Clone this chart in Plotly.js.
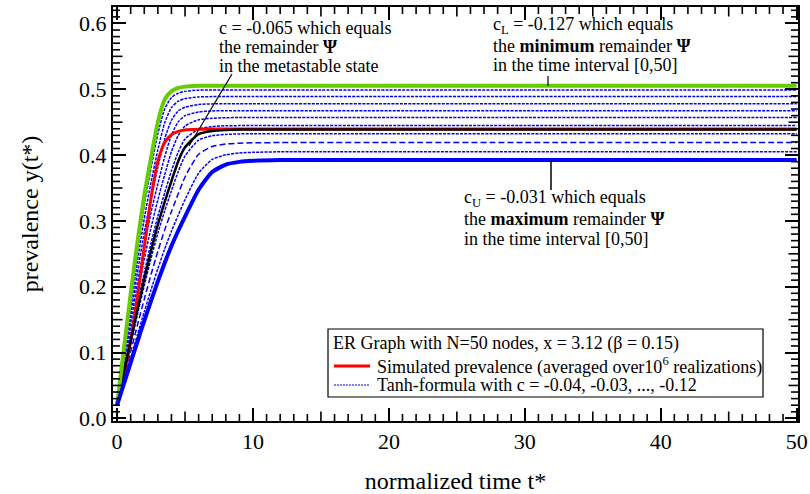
<!DOCTYPE html>
<html>
<head>
<meta charset="utf-8">
<script src="https://cdn.plot.ly/plotly-3.0.1.min.js"></script>
<style>html,body{margin:0;padding:0;background:#fff;}#chart{width:810px;height:494px;}</style>
</head>
<body>
<div id="chart"></div>
<script>
// normalized time samples t*
const t = [0,0.5,1,1.5,2,2.5,3,3.5,4,4.5,5,6,7,8,9,10,12,15,20,30,40,50];

// Tanh-formula curves (one array per c)
const y_c127 = [0.020,0.105,0.189,0.268,0.338,0.396,0.450,0.484,0.497,0.502,0.504,0.5053,0.5055,0.5055,0.5055,0.5055,0.5055,0.5055,0.5055,0.5055,0.5055,0.5055];
const y_c12  = [0.020,0.1005,0.180,0.2554,0.3234,0.3805,0.4322,0.4697,0.4876,0.494,0.4968,0.4987,0.499,0.499,0.499,0.499,0.499,0.499,0.499,0.499,0.499,0.499];
const y_c11  = [0.020,0.0946,0.1682,0.2387,0.3033,0.3588,0.4078,0.4487,0.4723,0.4819,0.4859,0.4883,0.4889,0.489,0.489,0.489,0.489,0.489,0.489,0.489,0.489,0.489];
const y_c10  = [0.020,0.0886,0.1563,0.2216,0.2824,0.3355,0.3816,0.4245,0.4529,0.4671,0.4727,0.4768,0.4778,0.478,0.478,0.478,0.478,0.478,0.478,0.478,0.478,0.478];
const y_c09  = [0.020,0.0827,0.1449,0.205,0.2617,0.3131,0.3564,0.3971,0.4304,0.4504,0.4599,0.4654,0.4671,0.4674,0.4675,0.4675,0.4675,0.4675,0.4675,0.4675,0.4675,0.4675];
const y_c08  = [0.020,0.0772,0.134,0.189,0.2419,0.2898,0.3321,0.3698,0.4053,0.4299,0.4442,0.4538,0.4559,0.4568,0.457,0.457,0.457,0.457,0.457,0.457,0.457,0.457];
const y_c07  = [0.020,0.0718,0.1231,0.1734,0.2217,0.2668,0.3072,0.3425,0.3761,0.4046,0.4245,0.4392,0.4433,0.4446,0.4448,0.445,0.445,0.445,0.445,0.445,0.445,0.445];
const y_c065 = [0.020,0.069,0.1176,0.1654,0.2113,0.2546,0.2944,0.3285,0.3606,0.3908,0.4118,0.4319,0.4366,0.4382,0.4388,0.439,0.439,0.439,0.439,0.439,0.439,0.439];
const y_c06  = [0.020,0.0664,0.1124,0.1578,0.2016,0.2431,0.2813,0.3151,0.3457,0.375,0.3986,0.4227,0.4295,0.4314,0.4322,0.4325,0.4325,0.4325,0.4325,0.4325,0.4325,0.4325];
const y_c05  = [0.020,0.061,0.1016,0.1418,0.1809,0.2186,0.2538,0.286,0.3143,0.3412,0.3667,0.4012,0.413,0.4168,0.4181,0.4187,0.419,0.419,0.419,0.419,0.419,0.419];
const y_c04  = [0.020,0.056,0.0916,0.1271,0.1618,0.1954,0.2274,0.2573,0.2844,0.3089,0.3324,0.3725,0.3935,0.4004,0.4032,0.4042,0.405,0.405,0.405,0.405,0.405,0.405];
const y_c031 = [0.020,0.0524,0.0846,0.1167,0.1481,0.1787,0.2082,0.236,0.262,0.2851,0.3066,0.3474,0.3743,0.3856,0.3897,0.3913,0.3924,0.3926,0.3926,0.3926,0.3926,0.3926];
// simulated prevalence
const y_sim  = [0.020,0.066,0.118,0.185,0.26,0.335,0.39,0.419,0.431,0.436,0.4382,0.4392,0.4395,0.4395,0.4395,0.4395,0.4395,0.4395,0.4395,0.4395,0.4395,0.4395];

// legend texts
const legendTitle = 'ER Graph with N=50 nodes, x = 3.12 (β = 0.15)';
const legendSim = 'Simulated prevalence (averaged over10<sup>6</sup> realizations)';
const legendTanh = 'Tanh-formula with c = -0.04, -0.03, ..., -0.12';

const SERIF = '"Liberation Serif", "Times New Roman", serif';
const BLUE = '#0000ff';
const DOT = '3px,1.2px';

function dotted(y, name, dash) {
  return {x: t, y: y, mode: 'lines', name: name, showlegend: false,
    line: {color: BLUE, width: 1.5, dash: dash || DOT, shape: 'spline', smoothing: 0.6},
    hoverinfo: 'skip'};
}

const traces = [
  dotted(y_c12, 'c=-0.12'),
  dotted(y_c11, 'c=-0.11'),
  dotted(y_c10, 'c=-0.10'),
  dotted(y_c09, 'c=-0.09'),
  dotted(y_c08, 'c=-0.08'),
  dotted(y_c07, 'c=-0.07'),
  dotted(y_c06, 'c=-0.06'),
  dotted(y_c05, 'c=-0.05', '6px,3px'),
  dotted(y_c04, 'c=-0.04'),
  {x: t, y: y_sim, mode: 'lines', name: 'simulated', showlegend: false,
   line: {color: '#ff0000', width: 3, shape: 'spline', smoothing: 0.6}},
  {x: t, y: y_c065, mode: 'lines', name: 'c=-0.065', showlegend: false,
   line: {color: '#000000', width: 2.5, shape: 'spline', smoothing: 0.6}},
  {x: t, y: y_c127, mode: 'lines', name: 'c=-0.127', showlegend: false,
   line: {color: '#66cc00', width: 4, shape: 'spline', smoothing: 0.6}},
  {x: t, y: y_c031, mode: 'lines', name: 'c=-0.031', showlegend: false,
   line: {color: BLUE, width: 4, shape: 'spline', smoothing: 0.6}}
];

// reference pixel -> paper coordinates (plot area 113..798 x 7..421)
const PW = 685, PH = 414;
const PX = p => (p - 113) / PW;
const PY = p => (421 - p) / PH;

const annFont = {family: SERIF, size: 18, color: '#000'};
function txt(px, py, s) {
  return {x: PX(px), y: PY(py), xref: 'paper', yref: 'paper', text: s, showarrow: false,
    xanchor: 'left', yanchor: 'middle', align: 'left', font: annFont};
}

const annotations = [
  txt(217, 28, 'c = -0.065 which equals'),
  txt(217, 47, 'the remainder <b>Ψ</b>'),
  txt(217, 66, 'in the metastable state'),
  txt(491, 26, 'c<sub>L</sub> = -0.127 which equals'),
  txt(491, 46, 'the <b>minimum</b> remainder <b>Ψ</b>'),
  txt(491, 65, 'in the time interval [0,50]'),
  txt(462, 198, 'c<sub>U</sub> = -0.031 which equals'),
  txt(462, 219, 'the <b>maximum</b> remainder <b>Ψ</b>'),
  txt(462, 239, 'in the time interval [0,50]'),
  // legend texts
  txt(331, 343, legendTitle),
  txt(375, 366, legendSim),
  txt(375, 385, legendTanh)
];

function seg(x0, y0, x1, y1, w, color, dash) {
  return {type: 'line', xref: 'paper', yref: 'paper', x0: PX(x0), y0: PY(y0), x1: PX(x1), y1: PY(y1),
    line: {color: color || '#000', width: w, dash: dash || 'solid'}};
}

const shapes = [
  seg(232, 74, 189, 146, 1.2),
  seg(548, 76, 548, 86, 1.2),
  seg(551, 160, 551, 190, 1.5),
  // legend box and samples
  {type: 'rect', xref: 'paper', yref: 'paper', x0: PX(328), y0: PY(329), x1: PX(763), y1: PY(397),
   fillcolor: '#fff', line: {color: '#000', width: 1.2}, layer: 'above'},
  seg(334, 366, 370, 366, 3, '#ff0000'),
  seg(334, 385, 370, 385, 1.2, BLUE, '2px,1px')
];

// axis ranges and the inside tick marks between the labelled ones
const XR = [-0.3, 50.1], YR = [-0.004, 0.625];
const xMinor = [1,2,3,4,5,6,7,8,9,11,12,13,14,15,16,17,18,19,21,22,23,24,25,26,27,28,29,31,32,33,34,35,36,37,38,39,41,42,43,44,45,46,47,48,49];
const yMinor = [];
for (let j = 1; j <= 62; j++) if (j % 10 !== 0) yMinor.push(j / 100);
const fx = v => (v - XR[0]) / (XR[1] - XR[0]);
const fy = v => (v - YR[0]) / (YR[1] - YR[0]);
const tickStroke = {color: '#000', width: 1.6};
xMinor.forEach(v => {
  const len = (v % 5 === 0 ? 9.5 : 7) / PH;
  shapes.push({type: 'line', xref: 'paper', yref: 'paper', x0: fx(v), x1: fx(v), y0: 0, y1: len, line: tickStroke});
  shapes.push({type: 'line', xref: 'paper', yref: 'paper', x0: fx(v), x1: fx(v), y0: 1, y1: 1 - len, line: tickStroke});
});
yMinor.forEach(v => {
  const mid = Math.round(v * 100) % 5 === 0;
  const len = (mid ? 9.5 : 7) / PW;
  shapes.push({type: 'line', xref: 'paper', yref: 'paper', x0: 0, x1: len, y0: fy(v), y1: fy(v), line: tickStroke});
  shapes.push({type: 'line', xref: 'paper', yref: 'paper', x0: 1, x1: 1 - len, y0: fy(v), y1: fy(v), line: tickStroke});
});

const axisCommon = {
  showgrid: false, zeroline: false, showline: true, linecolor: '#000', linewidth: 2,
  mirror: 'ticks', ticks: 'inside', ticklen: 13, tickwidth: 2, tickcolor: '#000',
  tickmode: 'linear', tick0: 0,
  tickfont: {family: SERIF, size: 22, color: '#000'}
};

const layout = {
  width: 810, height: 494,
  margin: {l: 113, r: 12, t: 7, b: 73},
  paper_bgcolor: '#fff', plot_bgcolor: '#fff',
  font: {family: SERIF, color: '#000'},
  xaxis: Object.assign({}, axisCommon, {
    range: XR, dtick: 10,
    title: {text: 'normalized time t*', font: {family: SERIF, size: 24, color: '#000'}, standoff: 20}
  }),
  yaxis: Object.assign({}, axisCommon, {
    range: YR, dtick: 0.1, tickformat: '.1f',
    title: {text: 'prevalence y(t*)', font: {family: SERIF, size: 24, color: '#000'}, standoff: 34}
  }),
  annotations: annotations,
  shapes: shapes,
  showlegend: false
};

Plotly.newPlot('chart', traces, layout, {staticPlot: true, displayModeBar: false});
</script>
</body>
</html>
